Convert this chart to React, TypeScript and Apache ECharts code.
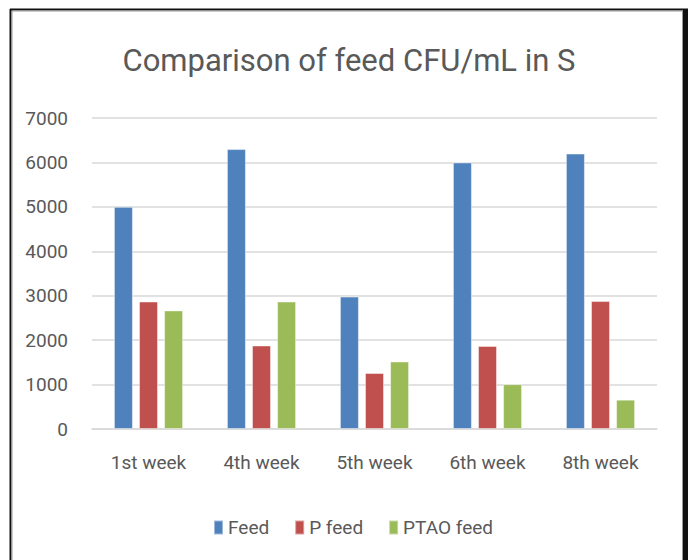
import React, { useEffect, useRef } from "react";
import * as echarts from "echarts";

const categories = ["1st week", "4th week", "5th week", "6th week", "8th week"];
const feed = [5000, 6300, 2980, 6000, 6200];
const pFeed = [2870, 1880, 1260, 1870, 2880];
const ptaoFeed = [2670, 2870, 1520, 1010, 660];
const seriesNames = ["Feed", "P feed", "PTAO feed"];
const colors = ["#4F81BD", "#C0504D", "#9BBB59"];

const FONT = "Roboto, 'Liberation Sans', sans-serif";

export default function App() {
  const ref = useRef<HTMLDivElement>(null);
  useEffect(() => {
    if (!ref.current) return;
    const chart = echarts.init(ref.current, null, { renderer: "svg" });
    const mk = (name: string, data: number[], color: string) => ({
      name,
      type: "bar",
      data,
      barWidth: 19,
      barGap: "32%",
      itemStyle: { color, borderColor: "rgba(255,255,255,0.45)", borderWidth: 1 },
    });
    chart.setOption({
      animation: false,
      backgroundColor: "#ffffff",
      textStyle: { fontFamily: FONT },
      title: {
        text: "Comparison of feed CFU/mL in S",
        left: 344,
        textAlign: "center",
        top: 40,
        textStyle: { fontFamily: FONT, fontSize: 31, fontWeight: "normal", color: "#595959" },
      },
      legend: {
        data: seriesNames,
        left: 208,
        top: 513,
        icon: "rect",
        itemWidth: 9,
        itemHeight: 14,
        itemGap: 25,
        textStyle: { fontFamily: FONT, fontSize: 19, color: "#595959", padding: [0, 0, 0, 0] },
      },
      grid: { left: 92, right: 31, top: 118, bottom: 131, containLabel: false },
      xAxis: {
        type: "category",
        data: categories,
        axisLine: { show: true, lineStyle: { color: "#d9d9d9", width: 1.5 } },
        axisTick: { show: false },
        axisLabel: { fontFamily: FONT, fontSize: 19, color: "#595959", margin: 24, interval: 0 },
      },
      yAxis: {
        type: "value",
        min: 0,
        max: 7000,
        interval: 1000,
        axisLine: { show: false },
        axisTick: { show: false },
        splitLine: { lineStyle: { color: "#d9d9d9", width: 1.5 } },
        axisLabel: { fontFamily: FONT, fontSize: 19, color: "#595959", margin: 24, formatter: (v: number) => String(v) },
      },
      graphic: [
        { type: "line", shape: { x1: 10.5, y1: 9, x2: 10.5, y2: 560 }, style: { stroke: "#111", lineWidth: 2 } },
        { type: "line", shape: { x1: 12, y1: 10, x2: 12, y2: 560 }, style: { stroke: "#999", lineWidth: 1 } },
        { type: "line", shape: { x1: 10, y1: 9.5, x2: 688, y2: 9.5 }, style: { stroke: "#111", lineWidth: 2 } },
        { type: "line", shape: { x1: 12, y1: 11, x2: 683, y2: 11 }, style: { stroke: "#999", lineWidth: 1 } },
        { type: "rect", shape: { x: 683, y: 9, width: 5, height: 551 }, style: { fill: "#111" } },
        { type: "line", shape: { x1: 682.5, y1: 11, x2: 682.5, y2: 560 }, style: { stroke: "#999", lineWidth: 1 } },
      ],
      series: [mk(seriesNames[0], feed, colors[0]), mk(seriesNames[1], pFeed, colors[1]), mk(seriesNames[2], ptaoFeed, colors[2])],
    });
    return () => chart.dispose();
  }, []);
  return (
    <div
      ref={ref}
      style={{ position: "absolute", left: 0, top: 0, width: 688, height: 560 }}
    />
  );
}
